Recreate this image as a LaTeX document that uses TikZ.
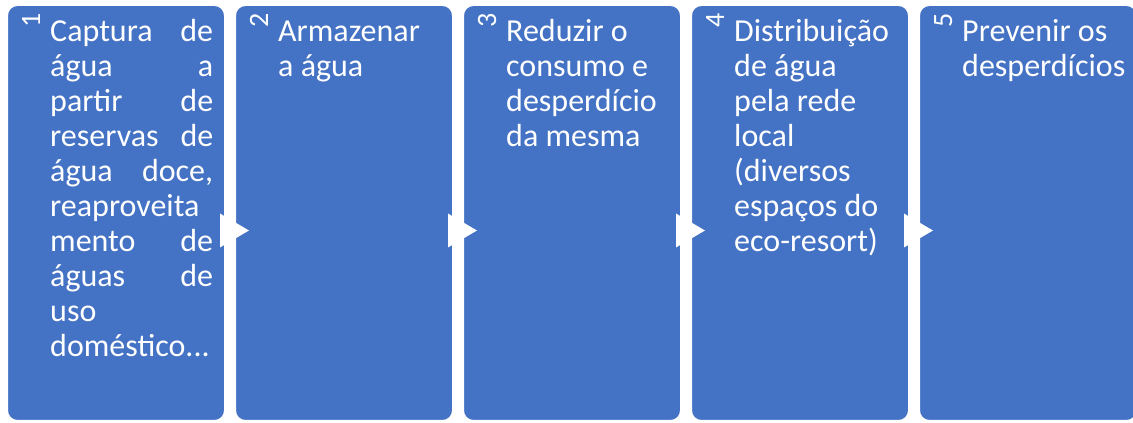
\documentclass[tikz,border=0pt]{standalone}
\usepackage{fontspec}
\setmainfont{Carlito}
\usetikzlibrary{calc}
\definecolor{boxblue}{HTML}{4472C4}
\newcommand\jline[2]{\makebox[163pt][l]{#1\hfill #2}}
\tikzset{
  stagebox/.style={draw=white, line width=1pt, fill=boxblue, rounded corners=10pt,
    minimum width=217pt, minimum height=415pt, inner sep=0pt, anchor=south west},
  stagetext/.style={text=white, font=\fontsize{32}{35}\selectfont, align=left,
    inner sep=0pt, anchor=north west},
  stagenum/.style={text=white, font=\fontsize{28}{30}\selectfont, rotate=90,
    inner sep=0pt, anchor=base west},
  flowarrow/.style={fill=white, draw=none}
}
\begin{document}
\begin{tikzpicture}[x=1pt,y=1pt]
\useasboundingbox (0,0) rectangle (1133,423);
\clip (0,0) rectangle (1133,423);
\node[stagebox] (b1) at (7,2) {};
\node[stagebox] (b2) at (235,2) {};
\node[stagebox] (b3) at (463,2) {};
\node[stagebox] (b4) at (691,2) {};
\node[stagebox] (b5) at (919,2) {};
\foreach \a in {b1,b2,b3,b4}{
  \fill[flowarrow] ($(\a.east)+(-5,-0.5)$) -- ($(\a.east)+(24,-17.5)$) -- ($(\a.east)+(-5,-34.5)$) -- cycle;
}
\node[stagenum] (n1) at ($(b1.north west)+(33,-23)$) {1};
\node[stagenum] (n2) at ($(b2.north west)+(33,-23)$) {2};
\node[stagenum] (n3) at ($(b3.north west)+(33,-23)$) {3};
\node[stagenum] (n4) at ($(b4.north west)+(33,-23)$) {4};
\node[stagenum] (n5) at ($(b5.north west)+(33,-23)$) {5};
\node[stagetext] (t1) at ($(b1.north west)+(43,-11)$) {\rule{0pt}{25pt}\jline{Captura}{de}\\
\jline{água}{a}\\ \jline{partir}{de}\\ \jline{reservas}{de}\\ \jline{água}{doce,}\\
reaproveita\\ \jline{mento}{de}\\ \jline{águas}{de}\\ uso\\ doméstico...};
\node[stagetext] (t2) at ($(b2.north west)+(43,-11)$) {\rule{0pt}{25pt}Armazenar\\ a água};
\node[stagetext] (t3) at ($(b3.north west)+(43,-11)$) {\rule{0pt}{25pt}Reduzir o\\ consumo e\\ desperdício\\ da mesma};
\node[stagetext] (t4) at ($(b4.north west)+(43,-11)$) {\rule{0pt}{25pt}Distribuição\\ de água\\ pela rede\\ local\\ (diversos\\ espaços do\\ eco-resort)};
\node[stagetext] (t5) at ($(b5.north west)+(43,-11)$) {\rule{0pt}{25pt}Prevenir os\\ desperdícios};
\end{tikzpicture}
\end{document}
